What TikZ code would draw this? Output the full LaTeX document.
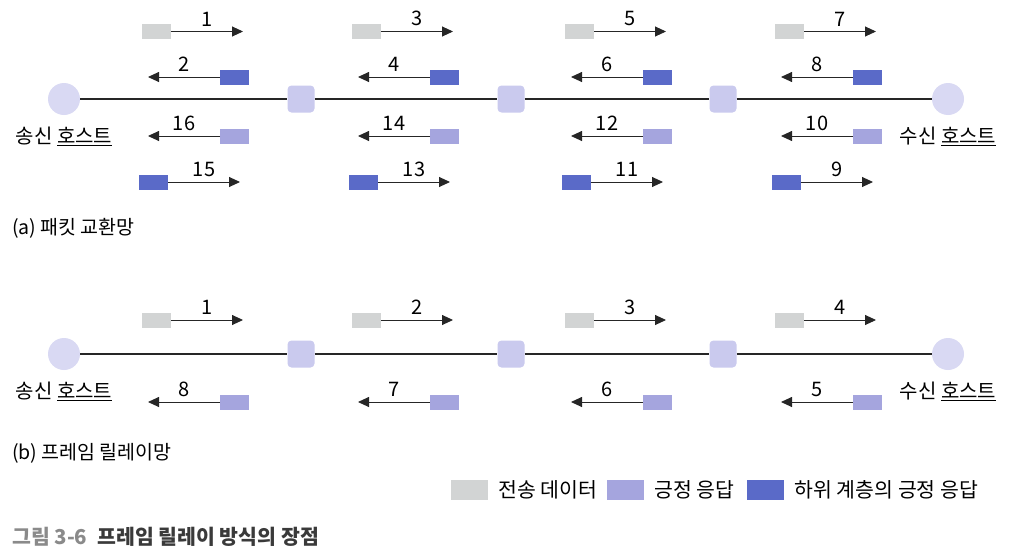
\documentclass[tikz,border=0pt]{standalone}
\usepackage{fontspec}
\setmainfont{Noto Sans CJK KR}
\usetikzlibrary{arrows.meta}
\definecolor{datagray}{HTML}{D2D4D4}
\definecolor{ackpurple}{HTML}{A5A5DE}
\definecolor{lowblue}{HTML}{5A6AC8}
\definecolor{swfill}{HTML}{CACAEE}
\definecolor{hostfill}{HTML}{D9D9F3}
\definecolor{capgray}{HTML}{8A8A8A}
\definecolor{capdark}{HTML}{3A3A3A}
\tikzset{
  pkt/.style={minimum width=29pt,minimum height=15pt,inner sep=0pt,outer sep=0pt},
  msg/.style={line width=0.9pt,draw=black!85,-{Triangle[length=11pt,width=10pt]}},
  num/.style={midway,above=5pt,inner sep=0pt,font=\fontsize{20}{20}\selectfont},
  host/.style={circle,fill=hostfill,minimum size=32pt,inner sep=0pt},
  sw/.style={rounded corners=4pt,fill=swfill,minimum size=27pt,inner sep=0pt},
  link/.style={line width=1.1pt,draw=black!85},
  hostlbl/.style={below=12pt,inner sep=0pt,font=\fontsize{20}{20}\selectfont},
}
\begin{document}
\begin{tikzpicture}[x=1pt,y=-1pt]
\useasboundingbox (0,0) rectangle (1011,549);
% (a) packet switching
\node[host] (ha) at (64,99) {};
\node[host] (ra) at (948,99) {};
\node[sw] (sa1) at (301,99) {};
\node[sw] (sa2) at (511,99) {};
\node[sw] (sa3) at (723,99) {};
\draw[link] (ha) -- (sa1) -- (sa2) -- (sa3) -- (ra);
\node[hostlbl] at (ha.south) {송신 \underline{호스트}};
\node[hostlbl] at (ra.south) {수신 \underline{호스트}};
\foreach \gx/\a/\b/\c/\d [count=\i] in {0/1/2/16/15,210/3/4/14/13,423/5/6/12/11,633/7/8/10/9}{
  \begin{scope}[xshift=\gx]
  \node[pkt,fill=datagray] (da\i) at (156.5,31.5) {};
  \coordinate (ta\i) at (243,31.5);
  \draw[msg] (da\i) -- (ta\i) node[num]{\a};
  \node[pkt,fill=lowblue] (la\i) at (234.5,77) {};
  \coordinate (ua\i) at (148,77);
  \draw[msg] (la\i) -- (ua\i) node[num]{\b};
  \node[pkt,fill=ackpurple] (aa\i) at (234.5,136) {};
  \coordinate (va\i) at (148,136);
  \draw[msg] (aa\i) -- (va\i) node[num]{\c};
  \node[pkt,fill=lowblue] (ma\i) at (153.5,182) {};
  \coordinate (wa\i) at (240,182);
  \draw[msg] (ma\i) -- (wa\i) node[num]{\d};
  \end{scope}
}
\node[anchor=west,inner sep=0pt,font=\fontsize{19.5}{19.5}\selectfont] at (12,228) {(a) 패킷 교환망};
% (b) frame relay
\node[host] (hb) at (64,354) {};
\node[host] (rb) at (948,354) {};
\node[sw] (sb1) at (301,354) {};
\node[sw] (sb2) at (511,354) {};
\node[sw] (sb3) at (723,354) {};
\draw[link] (hb) -- (sb1) -- (sb2) -- (sb3) -- (rb);
\node[hostlbl] at (hb.south) {송신 \underline{호스트}};
\node[hostlbl] at (rb.south) {수신 \underline{호스트}};
\foreach \gx/\a/\b [count=\i] in {0/1/8,210/2/7,423/3/6,633/4/5}{
  \begin{scope}[xshift=\gx]
  \node[pkt,fill=datagray] (db\i) at (156.5,320) {};
  \coordinate (tb\i) at (243,320);
  \draw[msg] (db\i) -- (tb\i) node[num]{\a};
  \node[pkt,fill=ackpurple] (ab\i) at (234.5,402) {};
  \coordinate (ub\i) at (148,402);
  \draw[msg] (ab\i) -- (ub\i) node[num]{\b};
  \end{scope}
}
\node[anchor=west,inner sep=0pt,font=\fontsize{19.5}{19.5}\selectfont] at (12,453) {(b) 프레임 릴레이망};
% legend
\foreach \lx/\col/\txt in {451/datagray/전송 데이터,607/ackpurple/긍정 응답,747/lowblue/하위 계층의 긍정 응답}{
  \node[minimum width=37pt,minimum height=20pt,inner sep=0pt,fill=\col,anchor=west] (k\lx) at (\lx,490) {};
  \node[anchor=west,inner sep=0pt,font=\fontsize{20.5}{20.5}\selectfont] at ([xshift=10pt]k\lx.east) {\txt};
}
% caption
\node[anchor=west,inner sep=0pt,font=\bfseries\fontsize{20.5}{20.5}\selectfont] at (12,537)
  {{\color{capgray}그림 3-6}\hspace{10pt}{\color{capdark}프레임 릴레이 방식의 장점}};
\end{tikzpicture}
\end{document}
